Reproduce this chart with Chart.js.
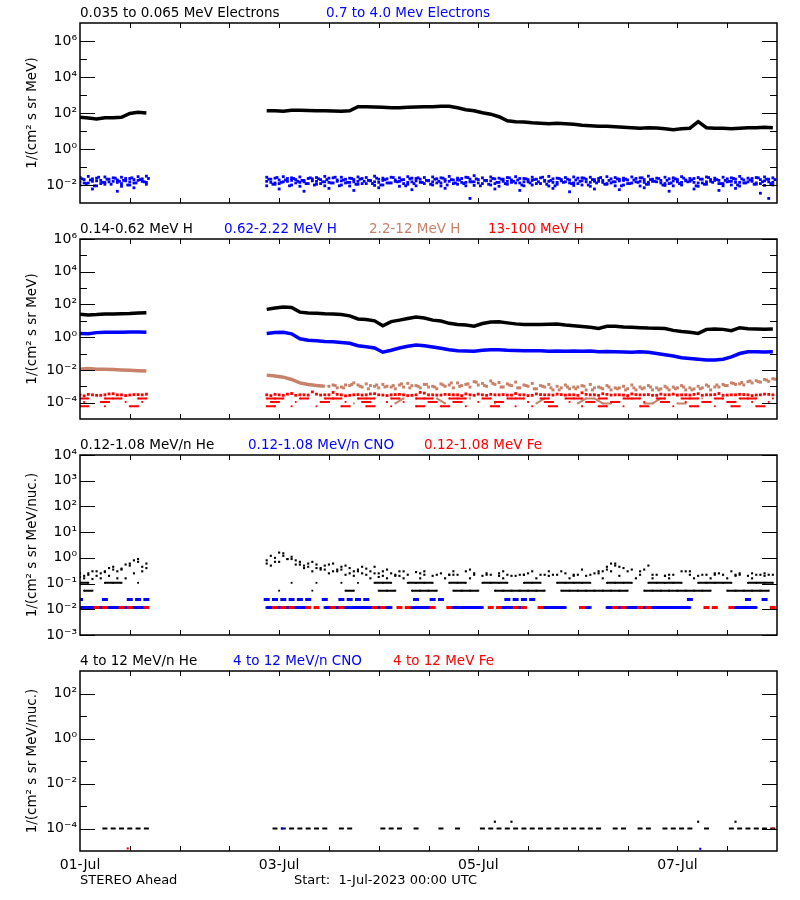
<!DOCTYPE html>
<html><head><meta charset="utf-8">
<script src="https://cdn.jsdelivr.net/npm/chart.js@4.4.0/dist/chart.umd.min.js"></script>
<style>
html,body{margin:0;padding:0;background:#fff;}
#wrap{position:relative;width:800px;height:900px;background:#fff;}
canvas{position:absolute;left:0;top:0;}
</style></head><body>
<div id="wrap">
<canvas id="c1" width="800" height="900"></canvas>
<canvas id="c2" width="800" height="900"></canvas>
<canvas id="c3" width="800" height="900"></canvas>
<canvas id="c4" width="800" height="900"></canvas>
</div>
<script>
// ---------- time grids (hours after 1-Jul-2023 00:00 UTC) ----------
function grid(a,b,s){const r=[];for(let v=a;v<=b;v+=s)r.push(v);return r;}
const T  = grid(0,16,2).concat(grid(45,167,2));
const T2 = grid(1,15,2).concat(grid(46,166,2));
const T3 = grid(0.5,16.5,2).concat(grid(45.5,167.5,2));
const T4 = grid(1.5,15.5,2).concat(grid(46.5,166.5,2));

// x axis
const xLabelHours = [0,48,96,144];
const xLabels = ['01-Jul','03-Jul','05-Jul','07-Jul'];
const xMinorHours = [12,24,36,48,60,72,84,96,108,120,132,144,156];

// y ticks
const p1Major=[1e-2,1e0,1e2,1e4,1e6], p1Minor=[1e-1,1e1,1e3,1e5];
const p2Major=[1e-4,1e-2,1e0,1e2,1e4,1e6], p2Minor=[1e-3,1e-1,1e1,1e3,1e5];
const p3Major=[1e-3,1e-2,1e-1,1e0,1e1,1e2,1e3,1e4], p3Minor=[];
const p4Major=[1e-4,1e-2,1e0,1e2], p4Minor=[1e-3,1e-1,1e1];

const v=0.0117, r=0.024, q=0.107, w=0.053, u=1e-4;

// ---------- Panel 1: electrons ----------
const eLow = [58,52,46,54,55,58,95,110,100,
 134,134,126,144,144,138,134,134,131,126,134,224,224,215,210,196,196,210,218,224,224,234,234,196,152,134,104,86,62,37,33,32,29,27,25.5,27,25.5,24,21,19.7,18.5,18.5,17.4,16.3,15.3,14.3,15.3,14.8,13.4,11.8,13.4,14.3,33,15.3,14.3,14.3,13.4,14.3,15.3,15.3,16.3,15.3];
const eHighA = [0.026,0.03,0.024,0.028,0.025,0.027,0.023,0.029,0.031,
 0.027,0.024,0.029,0.025,0.028,0.023,0.026,0.03,0.025,0.027,
 0.024,0.028,0.026,0.031,0.024,0.027,0.025,0.029,0.023,0.026,
 0.028,0.025,0.03,0.024,0.027,0.033,0.025,0.028,0.024,0.026,
 0.029,0.023,0.027,0.025,0.03,0.024,0.026,0.028,0.025,0.027,
 0.023,0.029,0.026,0.024,0.028,0.025,0.031,0.024,0.027,0.025,
 0.029,0.023,0.026,0.028,0.024,0.027,0.025,0.03,0.024,0.026,
 0.028,0.025];
const eHighB = [0.015,0.013,0.017,0.014,0.016,0.012,0.015,0.018,0.014,
 0.016,0.013,0.015,0.018,0.014,0.012,0.016,0.015,0.013,0.017,
 0.014,0.016,0.012,0.015,0.018,0.013,0.016,0.014,0.017,0.012,
 0.015,0.013,0.016,0.019,0.014,0.015,0.012,0.017,0.014,0.016,
 0.013,0.015,0.018,0.012,0.016,0.014,0.015,0.013,0.017,0.014,
 0.016,0.012,0.015,0.018,0.013,0.016,0.014,0.015,0.012,0.017,
 0.014,0.016,0.013,0.015,0.018,0.012,0.016,0.014,0.015,0.013,
 0.017,0.014];
const eHighC = [0.01,null,0.009,0.011,null,0.0085,0.01,null,0.011,
 0.009,0.011,null,0.01,0.0085,null,0.011,0.009,null,0.01,
 0.0088,0.011,null,0.0095,0.01,null,0.0085,0.011,0.009,null,
 0.01,0.0088,null,0.011,0.009,0.0095,null,0.01,0.0085,0.011,
 null,0.009,0.01,null,0.0088,0.011,null,0.0095,0.01,0.0085,
 null,0.011,0.009,0.01,null,0.0088,0.011,null,0.0095,0.009,
 0.01,null,0.0085,0.011,null,0.009,0.01,0.0088,null,0.011,
 0.0095,0.01];
const eHighD = [0.02,0.022,0.018,0.021,0.019,0.023,0.02,0.022,
 0.021,0.019,0.023,0.02,0.018,0.022,0.02,0.024,0.019,0.021,
 0.02,0.023,0.018,0.021,0.022,0.019,0.02,0.024,0.021,0.018,
 0.022,0.02,0.019,0.023,0.021,0.02,0.018,0.022,0.021,0.019,
 0.023,0.02,0.021,0.018,0.022,0.02,0.019,0.024,0.021,0.02,
 0.018,0.022,0.021,0.019,0.023,0.02,0.021,0.018,0.022,0.02,
 0.019,0.023,0.021,0.02,0.018,0.022,0.021,0.019,0.023,0.02,
 0.021];
const eHighE = [null,0.006,null,null,0.0045,null,0.007,null,
 null,0.006,null,null,0.0045,null,null,0.0065,null,null,
 0.005,null,null,0.007,null,null,null,0.0055,null,null,
 null,0.0065,null,null,0.0018,null,null,0.006,null,null,
 0.005,null,null,null,0.0065,null,0.0042,null,null,0.006,
 null,null,0.0055,null,null,0.007,null,null,0.0045,null,
 null,0.006,null,null,0.005,null,0.0065,null,null,0.0035,
 0.0018];
const eHighF = [0.013,0.016,0.012,0.015,0.014,0.017,0.013,0.016,
 0.014,0.012,0.016,0.013,0.015,0.017,0.012,0.014,0.016,0.013,
 0.015,0.012,0.017,0.014,0.013,0.016,0.012,0.015,0.014,0.017,
 0.013,0.016,0.012,0.014,0.015,0.013,0.017,0.012,0.016,0.014,
 0.013,0.015,0.012,0.016,0.014,0.017,0.013,0.012,0.015,0.016,
 0.014,0.013,0.017,0.012,0.015,0.014,0.016,0.013,0.012,0.015,
 0.017,0.014,0.013,0.016,0.012,0.015,0.014,0.013,0.016,0.012,
 0.015];
const eHighG = [0.022,0.019,0.027,0.021,0.024,0.018,0.025,0.02,0.023,
 0.021,0.026,0.019,0.023,0.018,0.025,0.022,0.02,0.027,0.019,
 0.023,0.021,0.018,0.024,0.02,0.026,0.019,0.022,0.025,0.018,
 0.021,0.024,0.02,0.019,0.026,0.022,0.018,0.023,0.021,0.025,
 0.019,0.022,0.02,0.027,0.018,0.023,0.021,0.019,0.024,0.02,
 0.026,0.018,0.022,0.021,0.019,0.025,0.02,0.023,0.018,0.022,
 0.024,0.019,0.021,0.026,0.02,0.018,0.023,0.022,0.019,0.025,
 0.021,0.02];
const eHighH = [0.012,0.009,0.014,0.011,0.016,0.01,0.013,0.015,
 0.011,0.014,0.009,0.016,0.012,0.01,0.015,0.013,0.009,0.014,
 0.011,0.016,0.012,0.01,0.013,0.015,0.009,0.012,0.014,0.011,
 0.016,0.01,0.013,0.012,0.015,0.009,0.011,0.014,0.012,0.016,
 0.01,0.013,0.015,0.011,0.009,0.014,0.012,0.016,0.01,0.013,
 0.011,0.015,0.009,0.012,0.014,0.011,0.016,0.01,0.013,0.012,
 0.015,0.009,0.011,0.014,0.012,0.016,0.01,0.013,0.011,0.015,
 0.012];

// ---------- Panel 2: protons ----------
const hLow = [25,23,24,26,26,27,28,30,31,
 50,60,70,66,34,30,29,27,26,24,20,13,12,10,5,9,11,14,17,15,11,9.8,7,5.9,5.5,4.7,6.8,8.5,8.7,7.5,6.5,6,5.9,6,6.2,6.3,5.5,5,4.5,4,3.4,4.6,4.6,4.2,4,3.8,3.6,3.5,3.4,2.6,2.2,2,1.7,3,3.2,3,2.5,3.8,3.3,3.2,3.1,3.2];
const hMid = [1.7,1.6,1.9,2.0,2.0,2.0,2.1,2.1,2.0,
 1.7,1.9,2.0,1.6,0.8,0.65,0.6,0.55,0.52,0.48,0.42,0.3,0.26,0.22,0.12,0.16,0.22,0.28,0.33,0.3,0.25,0.21,0.17,0.15,0.145,0.14,0.16,0.17,0.17,0.16,0.155,0.15,0.15,0.15,0.14,0.145,0.14,0.145,0.14,0.145,0.13,0.135,0.13,0.125,0.12,0.13,0.12,0.1,0.085,0.07,0.055,0.05,0.045,0.04,0.04,0.045,0.063,0.1,0.13,0.13,0.125,0.13];
const hSienLine = [0.011,0.012,0.011,0.011,0.0105,0.01,0.0095,0.009,0.0085,
 0.0048,0.0042,0.0036,0.0026,0.0016,0.0013,0.0011,0.001];
const hSienA = [null,null,null,null,null,null,null,null,null,
 null,null,null,null,null,null,null,null,
 0.0012,0.0009,0.0011,
 0.0012,0.0014,0.001,0.0013,0.0009,0.0012,0.0015,0.0011,0.0013,0.001,
 0.0014,0.0012,0.0016,0.0013,0.0019,0.0015,0.0021,0.0017,0.0014,0.0018,
 0.0012,0.0015,0.0011,0.0013,0.001,0.0012,0.0009,0.0011,0.0013,0.0009,
 0.0011,0.0008,0.001,0.0012,0.0009,0.0011,0.0008,0.001,0.0009,0.0011,
 0.0008,0.001,0.0012,0.0009,0.0013,0.0016,0.0014,0.0019,0.0022,0.0026,
 0.0029];
const hSienB = [null,null,null,null,null,null,null,null,
 null,null,null,null,null,null,null,
 0.001,0.0008,0.0012,
 0.0016,0.0009,0.0011,0.0008,0.001,0.0007,0.0009,0.0011,0.0008,0.0009,
 0.0007,0.001,0.0008,0.0011,0.0009,0.0012,0.001,0.0013,0.0009,0.0011,
 0.0008,0.001,0.0007,0.0009,0.0006,0.0008,0.0007,0.0009,0.0006,0.0008,
 0.0007,0.0006,0.0008,0.0007,0.0006,0.0008,0.0006,0.0007,0.0006,0.0008,
 0.0006,0.0007,0.0008,0.0006,0.0009,0.0011,0.0013,0.0012,0.0016,0.0018,
 0.002];
const hSienC = [null,null,null,null,null,null,null,null,null,
 null,null,null,null,null,null,null,null,
 0.0011,0.0008,0.0013,0.001,0.0007,0.0012,0.0009,0.0011,0.0014,0.0008,
 0.001,0.0013,0.0009,0.0012,0.0016,0.001,0.0014,0.0018,0.0011,0.0015,
 0.0009,0.0012,0.0008,0.0011,0.0007,0.001,0.0008,0.0006,0.0009,0.0007,
 0.001,0.0006,0.0008,0.0009,0.0007,0.0006,0.0008,0.0007,0.0009,0.0006,
 0.0008,0.0007,0.0009,0.0006,0.0007,0.001,0.0012,0.0011,0.0015,0.0017,
 0.0021,0.0019,0.0024,0.0027];
const hSienLow = [null,null,null,null,null,null,null,null,
 null,null,null,null,null,null,null,null,null,null,
 9e-5,null,1.8e-4,null,null,9e-5,1.8e-4,null,null,null,
 1.8e-4,9e-5,null,null,1.8e-4,null,null,9e-5,null,1.8e-4,
 null,null,9e-5,1.8e-4,null,null,null,9e-5,1.8e-4,1.8e-4,
 9e-5,9e-5,null,1.8e-4,null,9e-5,9e-5,1.8e-4,null,9e-5,
 9e-5,null,1.8e-4,null,null,null,null,null,null,null,
 null];
const hHiA = [3e-4,3.2e-4,2.8e-4,3e-4,3.5e-4,3e-4,2.9e-4,3.1e-4,3.3e-4,
 3e-4,3.2e-4,2.8e-4,3.6e-4,3e-4,2.9e-4,3.3e-4,3e-4,4.2e-4,3e-4,
 2.8e-4,3.1e-4,3e-4,3.5e-4,2.9e-4,3e-4,3.2e-4,2.7e-4,3e-4,3.8e-4,
 3e-4,2.9e-4,3.1e-4,3e-4,3.4e-4,2.8e-4,3e-4,3.2e-4,3e-4,2.9e-4,
 3.6e-4,3e-4,2.8e-4,3.1e-4,3e-4,3.3e-4,2.9e-4,3e-4,4e-4,3e-4,
 2.8e-4,3.2e-4,3e-4,2.9e-4,3.4e-4,3e-4,3.1e-4,2.8e-4,3e-4,3.3e-4,
 3e-4,2.9e-4,3.5e-4,3e-4,3.1e-4,2.8e-4,3e-4,3.2e-4,3e-4,2.9e-4,
 3.3e-4,3e-4];
const hHiB = [2.6e-4,3e-4,2.8e-4,3.4e-4,3e-4,2.7e-4,3.1e-4,3e-4,
 2.7e-4,3e-4,3.3e-4,2.8e-4,3e-4,4.5e-4,2.9e-4,3e-4,3.2e-4,2.6e-4,
 3e-4,2.9e-4,3.4e-4,3e-4,2.7e-4,3.1e-4,3e-4,2.8e-4,4.2e-4,3e-4,
 2.9e-4,3.2e-4,3e-4,2.7e-4,3e-4,3.3e-4,2.8e-4,3e-4,3.1e-4,2.9e-4,
 3e-4,2.7e-4,3.4e-4,3e-4,2.9e-4,3.1e-4,3e-4,2.8e-4,3.2e-4,3e-4,
 3.5e-4,2.9e-4,3e-4,2.7e-4,3.1e-4,3e-4,2.8e-4,3.3e-4,3e-4,2.9e-4,
 3e-4,3.2e-4,2.8e-4,3e-4,3.6e-4,2.9e-4,3e-4,3.1e-4,2.7e-4,3e-4,
 3.2e-4];
const s=1.8e-4, t=1.1e-4, z=6e-5;
const hHiC = [s,s,null,s,s,s,null,s,s,
 s,s,s,null,s,s,null,s,s,s, null,s,s,s,null,s,s,null,s,s,
 s,null,s,s,s,null,s,s,null,s, s,s,null,s,s,null,s,s,s,null,
 s,s,null,s,s,s,null,s,s,null, s,s,s,null,s,s,null,s,s,s, null,s];
const hHiD = [t,null,t,t,null,t,null,t,
 t,t,null,t,null,null,t,t,null,t, null,t,t,null,t,null,t,null,null,t,
 t,null,t,t,null,t,null,t,t,null, null,t,null,t,t,null,t,null,t,t,
 null,t,t,null,null,t,null,t,t,null, t,null,t,t,null,t,t,null,t,null, t];
const hHiE = [z,z,null,z,null,null,z,z,null,
 z,z,null,z,null,null,z,null,null,z, z,null,z,z,null,z,null,null,z,z,
 null,z,z,null,z,null,null,z,z,null, z,null,z,null,z,z,null,null,z,null,
 z,z,null,z,null,z,z,null,null,z, null,z,z,null,z,null,z,z,null,z, z,null];

// ---------- Panel 3: 0.12-1.08 MeV/n ions ----------
const heA = [0.25,0.22,0.3,0.28,0.35,0.38,0.5,0.7,0.6,
 0.8,1.0,1.5,1.1,0.7,0.6,0.55,0.5,0.6,0.45,0.4,0.35,0.38,0.45,0.3,0.25,0.3,0.22,0.28,0.22,0.2,0.25,0.22,0.22,0.3,0.22,0.2,0.22,0.25,0.22,0.2,0.22,0.3,0.22,0.2,0.22,0.25,0.22,0.35,0.22,0.3,0.45,0.6,0.4,0.35,0.3,0.5,0.22,0.2,0.22,0.3,0.22,0.2,0.22,0.25,0.22,0.3,0.22,0.2,0.22,0.25,0.22];
const heB = [0.2,0.3,0.25,0.4,0.3,0.55,0.8,0.45,
 1.2,1.6,0.9,0.8,0.5,0.7,0.4,0.55,0.35,0.5,0.3,0.45,0.3,0.25,0.35,0.22,0.3,
 null,0.25,null,0.22,null,0.3,null,0.35,null,0.22,null,0.3,null,0.22,0.25,null,0.22,null,0.3,null,0.22,null,0.25,0.3,0.6,0.45,0.3,null,0.35,0.22,null,0.22,null,0.3,null,0.22,null,0.25,null,0.22,null,0.25,0.22,null];
const heC = [0.16,0.15,0.16,0.2,0.16,0.16,0.25,0.3,
 0.5,0.7,0.9,0.55,0.4,0.3,0.35,0.25,0.3,0.22,0.2,0.25,0.16,0.18,0.16,0.2,0.16,
 null,0.16,null,null,0.16,0.22,null,0.16,null,0.25, null,0.16,0.2,null,null,0.16,null,0.22,null,0.16,
 null,0.2,null,0.16,0.3,0.2,null,0.16,null,0.16, null,0.16,null,null,0.16,null,0.16,null,0.16,0.2,
 null,0.16,null,0.22];
const heD = [0.18,0.25,0.2,0.3,0.45,0.35,0.6,0.9,0.4,
 0.6,0.7,1.2,0.9,0.55,0.45,0.4,0.35,0.3,0.35,0.25,0.3,0.22,0.25,0.2,
 null,0.2,null,null,0.3,null,null,0.22,null,null,
 0.25,null,null,0.2,null,null,0.22,null,null,0.3,
 null,null,0.2,null,null,0.25,0.35,0.5,null,null,
 0.22,null,null,0.2,null,null,0.3,null,null,0.22,
 null,null,0.25,null,null,0.2,null];
const heRowQ = [q,q,null,q,q,q,null,q,null,
 null,null,null,q,null,null,q,null,null,q,null,
 q,null,q,q,q,null,q,q,q,q, null,q,q,q,null,q,q,q,q,null,
 q,q,q,null,q,q,q,q,q,null, q,q,q,q,null,q,q,q,q,q,
 null,q,q,q,q,q,null,q,q,q, q];
const heRowW = [w,w,null,null,null,null,null,null,
 null,w,null,null,null,w,null,null,null,w, w,null,null,w,w,w,null,w,w,w,
 w,null,w,w,w,w,null,
 w,w,w,w,w,w,w,null,w,w, w,w,w,w,w,w,w,null,w,w, w,w,w,w,w,w,w,null,w,w, w,w,w,w];
const cnoUp = [r,null,null,r,null,null,r,r,r,
 r,r,r,r,r,r,null,r,null,r, r,r,r,null,null,null,null,null,r,null,
 r,r,null,null,null,null,null,null,null,r, r,r,r,null,
 null,null,null,null,null,null,null,null,null,null,null,null,null,null,null,null,null,
 r,null,null,null,null,null,null,r,null,r,null];
const cnoLo = [v,v,v,v,v,v,v,v,v,
 v,v,v,v,v,v,null,v,v,v,v,v,v,v,
 v,v,null,v,v,v,v,null,v,v,v,v,v,null,v,v,v,v,null,v,v,
 v,v,null,v,v,null,v,v,v,v, v,v,v,v,v,v,v,null,v,null, null,v,v,v,v,null,v];
const feLo = [null,null,v,v,null,v,v,null,v,
 null,v,v,v,null,v,v,null,v,v,null,null,null,v,v,null,v,v,null,null,v,null,v,null,null,null,null,v,v,null,v,v,null,v,null,null,null,null,v,null,null,null,v,v,null,v,v,null,null,null,null,null,null,v,v,null,v,null,null,null,null,v];

// ---------- Panel 4: 4-12 MeV/n ions ----------
const he4Row = [null,null,null,u,u,u,u,u,u,
 null,u,u,u,u,u,u,u,null,u,u,null,null,null,u,u,u,null,u,null,null,u,null,u,null,null,u,u,u,u,u,u,u,u,u,u,u,u,u,u,u,null,u,u,null,u,u,null,u,u,u,u,null,u,null,null,u,u,u,u,u,u,null];
const he4HiHours = [100,104,149,158], he4HiVals = [2e-4,2e-4,2e-4,2e-4];
const cno4Hours = [48.7,149.5], cno4Vals = [1e-4,1.25e-5];
const fe4Hours = [11.5,167], fe4Vals = [1.3e-5,1e-4];

// ---------- helpers ----------
const BLACK='#000000', BLUE='#0000ff', RED='#ff0000', SIEN='#c8826a';
function pts(times, vals){
  const out=[]; const n=Math.min(times.length, vals.length);
  for(let i=0;i<n;i++){
    if(i>0 && times[i]-times[i-1]>10) out.push({x:(times[i]+times[i-1])/2, y:null});
    out.push({x:times[i], y:vals[i]});
  }
  return out;
}
function lineDs(data,color,wd){return {data, showLine:true, borderColor:color, backgroundColor:color, borderWidth:wd, pointRadius:0, spanGaps:false, tension:0};}
function dotDs(data,color,rad){return {data, showLine:false, pointStyle:'rect', pointRadius:rad, pointBackgroundColor:color, pointBorderWidth:0, backgroundColor:color, borderColor:color};}
function rowDs(data,color,wd,rad){return {data, showLine:true, borderColor:color, backgroundColor:color, borderWidth:wd, pointStyle:'rect', pointRadius:rad, pointBackgroundColor:color, pointBorderWidth:0, spanGaps:false, tension:0};}
function dashDs(data,color,rad,wd){return {data, showLine:false, pointStyle:'line', pointRadius:rad, pointBorderColor:color, pointBorderWidth:wd, borderColor:color, backgroundColor:color};}
function ordered(list){const n=list.length; return list.map((d,i)=>Object.assign(d,{order:n-i}));}

const SUP={'-':'\u207B','0':'\u2070','1':'\u00B9','2':'\u00B2','3':'\u00B3','4':'\u2074','5':'\u2075','6':'\u2076','7':'\u2077','8':'\u2078','9':'\u2079'};
function powLabel(val){const e=Math.round(Math.log10(val)); return '10'+String(e).split('').map(c=>SUP[c]).join('');}

Chart.defaults.font.family = '"DejaVu Sans", sans-serif';
Chart.defaults.color = '#000';

const PANELS = {
  c1:{top:23,bottom:203,min:1e-3,max:1e7,major:p1Major,minor:p1Minor,ytitle:'1/(cm\u00B2 s sr MeV)',showX:false,
      titles:[['0.035 to 0.065 MeV Electrons',BLACK,80],['0.7 to 4.0 Mev Electrons',BLUE,326]],
      datasets:ordered([lineDs(pts(T,eLow),BLACK,3.5),
        dotDs(pts(T,eHighA),BLUE,2), dotDs(pts(T3,eHighG),BLUE,2), dotDs(pts(T2,eHighD),BLUE,2), dotDs(pts(T,eHighB),BLUE,2),
        dotDs(pts(T2,eHighF),BLUE,2), dotDs(pts(T4,eHighH),BLUE,2), dotDs(pts(T,eHighC),BLUE,2), dotDs(pts(T2,eHighE),BLUE,2)])},
  c2:{top:239,bottom:419,min:1e-5,max:1e6,major:p2Major,minor:p2Minor,ytitle:'1/(cm\u00B2 s sr MeV)',showX:false,
      titles:[['0.14-0.62 MeV H',BLACK,80],['0.62-2.22 MeV H',BLUE,224],['2.2-12 MeV H',SIEN,369],['13-100 MeV H',RED,488]],
      datasets:ordered([lineDs(pts(T,hLow),BLACK,3.5), lineDs(pts(T,hMid),BLUE,3.5), lineDs(pts(T,hSienLine),SIEN,3.5),
        dotDs(pts(T,hSienA),SIEN,2.1), dotDs(pts(T2,hSienB),SIEN,2.1), dotDs(pts(T3,hSienC),SIEN,2.1), rowDs(pts(T2,hSienLow),SIEN,2,1.3),
        dotDs(pts(T,hHiA),RED,2), dotDs(pts(T2,hHiB),RED,2), rowDs(pts(T,hHiC),RED,2,1.3), rowDs(pts(T2,hHiD),RED,2,1.3), rowDs(pts(T,hHiE),RED,2,1.3)])},
  c3:{top:455,bottom:635,min:1e-3,max:1e4,major:p3Major,minor:p3Minor,ytitle:'1/(cm\u00B2 s sr MeV/nuc.)',showX:false,
      titles:[['0.12-1.08 MeV/n He',BLACK,80],['0.12-1.08 MeV/n CNO',BLUE,248],['0.12-1.08 MeV Fe',RED,424]],
      datasets:ordered([dotDs(pts(T,heA),BLACK,1.5), dotDs(pts(T2,heB),BLACK,1.5), dotDs(pts(T2,heC),BLACK,1.5), dotDs(pts(T,heD),BLACK,1.5),
        rowDs(pts(T,heRowQ),BLACK,2,1.3), rowDs(pts(T2,heRowW),BLACK,2,1.3),
        dashDs(pts(T,cnoUp),BLUE,3,3), rowDs(pts(T,cnoLo),BLUE,3,1.8), dashDs(pts(T,feLo),RED,3,3)])},
  c4:{top:671,bottom:851,min:1e-5,max:1e3,major:p4Major,minor:p4Minor,ytitle:'1/(cm\u00B2 s sr MeV/nuc.)',showX:true,
      titles:[['4 to 12 MeV/n He',BLACK,80],['4 to 12 MeV/n CNO',BLUE,233],['4 to 12 MeV Fe',RED,393]],
      footer:[['STEREO Ahead',80,881],['Start:  1-Jul-2023 00:00 UTC',294,881]],
      datasets:ordered([dashDs(pts(T,he4Row),BLACK,2.5,2), dotDs(pts(he4HiHours,he4HiVals),BLACK,1.5),
        dotDs(pts(cno4Hours,cno4Vals),BLUE,1.5), dotDs(pts(fe4Hours,fe4Vals),RED,1.5)])}
};

const framePlugin = {
  id:'frame',
  afterDraw(chart){
    const cfg = PANELS[chart.canvas.id];
    const {ctx, chartArea:a, scales} = chart;
    ctx.save();
    ctx.strokeStyle='#000';
    ctx.lineWidth=1.5;
    ctx.strokeRect(a.left, a.top, a.right-a.left, a.bottom-a.top);
    ctx.lineWidth=1;
    ctx.beginPath();
    const ys=scales.y, xs=scales.x;
    const yt=(val,len)=>{const y=Math.round(ys.getPixelForValue(val))+0.5; ctx.moveTo(a.left,y); ctx.lineTo(a.left+len,y); ctx.moveTo(a.right,y); ctx.lineTo(a.right-len,y);};
    cfg.major.forEach(val=>yt(val,15));
    cfg.minor.forEach(val=>yt(val,7));
    xMinorHours.forEach(h=>{const x=Math.round(xs.getPixelForValue(h))+0.5; ctx.moveTo(x,a.top); ctx.lineTo(x,a.top+5); ctx.moveTo(x,a.bottom); ctx.lineTo(x,a.bottom-5);});
    ctx.stroke();
    ctx.font='13.5px "DejaVu Sans"';
    ctx.textBaseline='middle'; ctx.textAlign='left';
    cfg.titles.forEach(tt=>{ctx.fillStyle=tt[1]; ctx.fillText(tt[0], tt[2], a.top-10);});
    if(cfg.footer){ ctx.fillStyle='#000'; ctx.font='13px "DejaVu Sans"'; cfg.footer.forEach(f=>ctx.fillText(f[0],f[1],f[2])); }
    ctx.restore();
  }
};

Object.keys(PANELS).forEach(id=>{
  const cfg=PANELS[id];
  const xh = cfg.showX ? 30 : 0;
  new Chart(document.getElementById(id), {
    type:'scatter',
    data:{datasets:cfg.datasets},
    options:{
      responsive:false, animation:false, events:[],
      layout:{padding:{left:0,right:23,top:cfg.top,bottom:900-cfg.bottom-xh}},
      plugins:{legend:{display:false},tooltip:{enabled:false}},
      scales:{
        x:{type:'linear',min:0,max:168,grid:{display:false,drawTicks:false},border:{display:false},
           ticks:{display:cfg.showX,autoSkip:false,maxRotation:0,font:{size:14},color:'#000',padding:6,
                  callback:(val,i)=>xLabels[xLabelHours.indexOf(val)] || ''},
           afterBuildTicks:sc=>{sc.ticks=xLabelHours.map(h=>({value:h}));},
           afterFit:sc=>{sc.height=xh;}},
        y:{type:'logarithmic',min:cfg.min,max:cfg.max,grid:{display:false,drawTicks:false},border:{display:false},
           ticks:{autoSkip:false,font:{size:14},color:'#000',padding:3,callback:val=>powLabel(val)},
           afterBuildTicks:sc=>{sc.ticks=cfg.major.map(m=>({value:m}));},
           afterFit:sc=>{sc.width=80;},
           title:{display:true,text:cfg.ytitle,color:'#000',font:{size:13.5},padding:{top:24,bottom:0}}}
      }
    },
    plugins:[framePlugin]
  });
});
</script>
</body></html>
